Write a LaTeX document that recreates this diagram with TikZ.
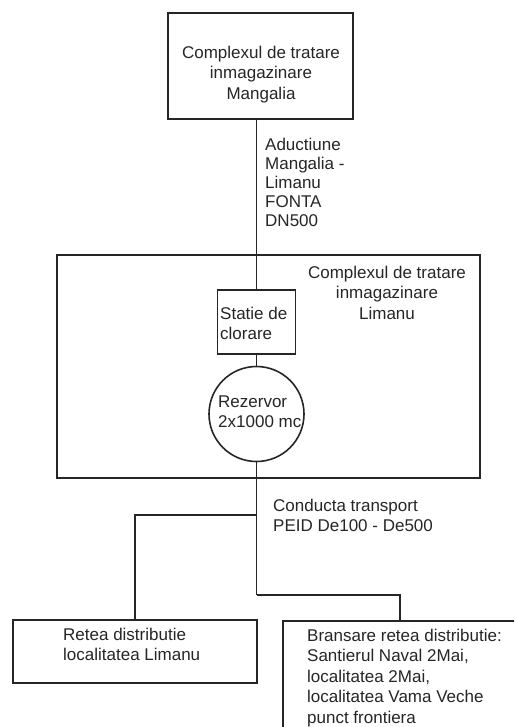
\documentclass[tikz,border=0pt]{standalone}
\usepackage{fontspec}
\setmainfont{Liberation Sans}
\begin{document}
\begin{tikzpicture}[x=1pt,y=-1pt,
  box/.style={draw=black!85, line width=1.6pt, rectangle, inner sep=0pt},
  txt/.style={font=\fontsize{17}{20.5}\selectfont, text=black!85, inner sep=0pt},
  pipe/.style={draw=black!85, line width=1.6pt}]
\useasboundingbox (0,0) rectangle (514,727);
\clip (0,0) rectangle (514,727);
\fill[white] (0,0) rectangle (514,727);
% boxes
\node[box, minimum width=185pt, minimum height=106pt] (mang) at (260.5,66) {};
\node[txt, align=center, anchor=north] (mangt) at (261,45.5) {Complexul de tratare\\inmagazinare\\Mangalia};
\node[box, minimum width=423pt, minimum height=223pt] (lim) at (268.5,366.5) {};
\node[txt, align=center, anchor=north] (limt) at (387,265.5) {Complexul de tratare\\inmagazinare\\Limanu};
\node[box, minimum width=78pt, minimum height=64pt] (stat) at (256.5,322) {};
\node[txt, align=left, anchor=north west] (statt) at (220,306.5) {Statie de\\clorare};
\node[draw=black!85, line width=1.6pt, circle, minimum size=95pt, inner sep=0pt] (rez) at (256.5,414) {};
\node[txt, align=left, anchor=north west] (rezt) at (218,395.5) {Rezervor\\2x1000 mc};
\node[box, minimum width=244pt, minimum height=63pt] (lbox) at (135,651.5) {};
\node[txt, align=left, anchor=north west] (lboxt) at (63,627.5) {Retea distributie\\localitatea Limanu};
\node[box, minimum width=262pt, minimum height=130pt] (rbox) at (414,686) {};
\node[txt, align=left, anchor=north west] (rboxt) at (307,628.5) {Bransare retea distributie:\\Santierul Naval 2Mai,\\localitatea 2Mai,\\localitatea Vama Veche\\punct frontiera};
% labels
\node[txt, font=\fontsize{17}{19.2}\selectfont, align=left, anchor=north west] (adu) at (265,137.5) {Aductiune\\Mangalia -\\Limanu\\FONTA\\DN500};
\node[txt, align=left, anchor=north west] (cond) at (273,498.5) {Conducta transport\\PEID De100 - De500};
% connectors
\coordinate (bl) at (256.5,515);
\coordinate (br) at (256.5,595);
\coordinate (lt) at (135,515);
\coordinate (rt) at (400,595);
\draw[pipe] (mang.south -| stat.north) -- (stat.north);
\draw[pipe] (stat.south) -- (rez.north);
\draw[pipe] (rez.south) -- (br);
\draw[pipe] (bl) -- (lt) -- (lt |- lbox.north);
\draw[pipe] (br) -- (rt) -- (rt |- rbox.north);
\end{tikzpicture}
\end{document}
